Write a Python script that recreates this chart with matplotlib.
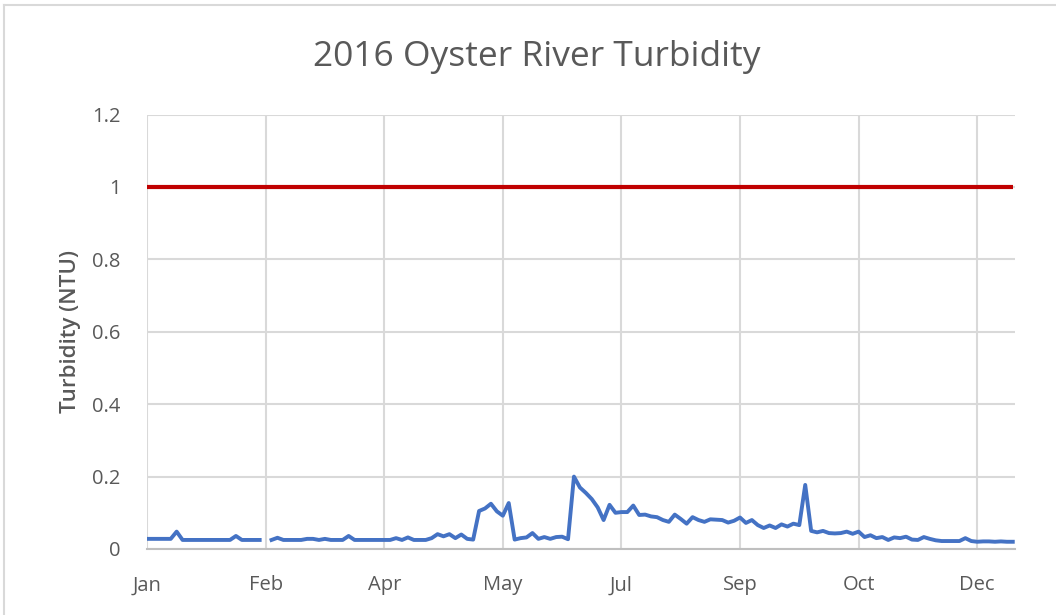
import numpy as np
import matplotlib
matplotlib.use("Agg")
import matplotlib.pyplot as plt
from matplotlib.lines import Line2D

title = "2016 Oyster River Turbidity"
ylabel = "Turbidity (NTU)"
tick_labels = ["Jan", "Feb", "Apr", "May", "Jul", "Sep", "Oct", "Dec"]
threshold = 1.0
nan = float("nan")

turbidity = [
    0.028, 0.028, 0.028, 0.028, 0.028, 0.048, 0.025, 0.025, 0.025, 0.025,
    0.025, 0.025, 0.025, 0.025, 0.025, 0.036, 0.025, 0.025, 0.025, 0.025,
    nan,   0.025, 0.031, 0.025, 0.025, 0.025, 0.025, 0.028, 0.028, 0.025,
    0.028, 0.025, 0.025, 0.025, 0.036, 0.025, 0.025, 0.025, 0.025, 0.025,
    0.025, 0.025, 0.030, 0.025, 0.032, 0.025, 0.025, 0.025, 0.030, 0.041,
    0.035, 0.041, 0.030, 0.040, 0.028, 0.026, 0.105, 0.112, 0.125, 0.104,
    0.092, 0.127, 0.026, 0.030, 0.032, 0.044, 0.028, 0.033, 0.028, 0.033,
    0.034, 0.027, 0.200, 0.170, 0.155, 0.138, 0.115, 0.080, 0.122, 0.100,
    0.102, 0.102, 0.120, 0.094, 0.095, 0.090, 0.088, 0.080, 0.075, 0.095,
    0.083, 0.070, 0.088, 0.080, 0.075, 0.082, 0.081, 0.080, 0.073, 0.078,
    0.087, 0.072, 0.080, 0.066, 0.058, 0.065, 0.058, 0.068, 0.062, 0.070,
    0.066, 0.177, 0.050, 0.046, 0.050, 0.044, 0.043, 0.044, 0.048, 0.042,
    0.048, 0.033, 0.038, 0.030, 0.033, 0.025, 0.032, 0.030, 0.034, 0.026,
    0.025, 0.033, 0.028, 0.024, 0.022, 0.022, 0.022, 0.022, 0.030, 0.022,
    0.020, 0.021, 0.021, 0.020, 0.021, 0.020, 0.020,
]

W, H, DPI = 1056, 615, 100
fig = plt.figure(figsize=(W / DPI, H / DPI), dpi=DPI)
fig.patch.set_facecolor("white")

# chart border (top / left)
fig.add_artist(Line2D([4 / W, 4 / W], [0, 1 - 5 / H], color="#D9D9D9", lw=1.5, transform=fig.transFigure))
fig.add_artist(Line2D([4 / W, 1], [1 - 5 / H, 1 - 5 / H], color="#D9D9D9", lw=1.5, transform=fig.transFigure))

left, right, top, bottom = 147, 1015, 114.6, 549
ax = fig.add_axes([left / W, 1 - bottom / H, (right - left) / W, (bottom - top) / H])

x = np.arange(len(turbidity))
step = 20
xmax = (right - left) / 5.93
ax.plot(x, [threshold] * len(x), color="#C00000", lw=3.0, solid_capstyle="butt", zorder=3)
ax.plot(x, turbidity, color="#4472C4", lw=2.8, solid_joinstyle="round", zorder=4)

ax.set_xlim(0, xmax)
ax.set_ylim(0, 1.2)
ax.set_yticks([0, 0.2, 0.4, 0.6, 0.8, 1.0, 1.2])
ax.set_yticklabels(["0", "0.2", "0.4", "0.6", "0.8", "1", "1.2"])
ax.set_xticks(np.arange(0, step * len(tick_labels), step))
ax.set_xticklabels(tick_labels)

ax.grid(True, color="#D9D9D9", lw=1.5)
ax.set_axisbelow(True)
for s in ["top", "right", "left"]:
    ax.spines[s].set_visible(False)
ax.spines["bottom"].set_color("#BFBFBF")
ax.spines["bottom"].set_linewidth(1.5)
ax.tick_params(axis="both", length=0, colors="#595959", labelsize=14.5)
ax.tick_params(axis="y", pad=19)
ax.tick_params(axis="x", pad=19)
for lab in ax.get_xticklabels() + ax.get_yticklabels():
    lab.set_fontfamily("Open Sans")

ax.set_ylabel(ylabel, fontsize=16, color="#595959", fontfamily="Open Sans",
              fontweight="semibold", labelpad=8)
fig.text(537 / W, 1 - 57 / H, title, ha="center", va="center", fontsize=25.5,
         color="#595959", fontfamily="Open Sans")

fig.savefig("out.png", dpi=DPI)
